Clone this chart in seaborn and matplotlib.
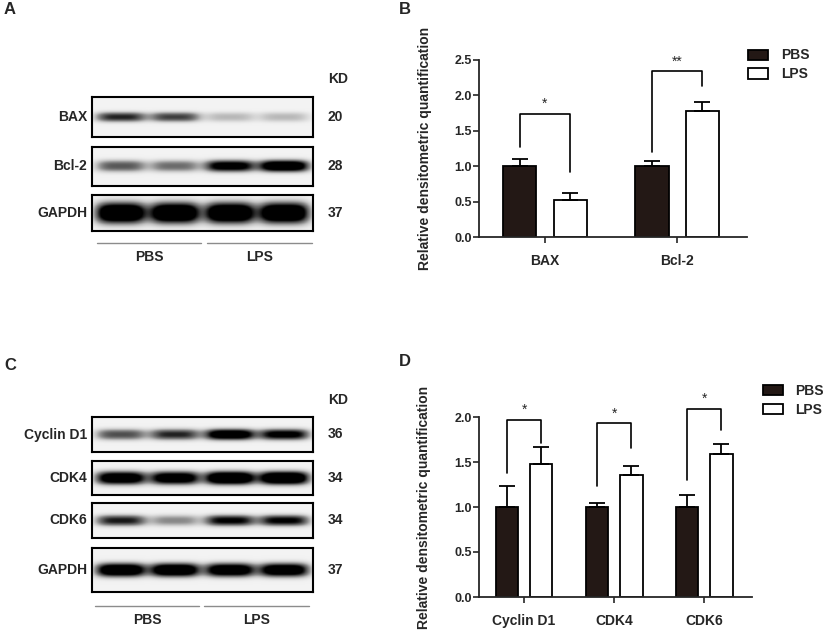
import matplotlib
matplotlib.use('Agg')
import matplotlib.pyplot as plt
from matplotlib.lines import Line2D
import seaborn as sns
import pandas as pd
import numpy as np

## valores

# painel B
b_proteins = ['BAX', 'Bcl-2']
b_pbs = [1.00, 1.00]
b_pbs_err = [0.10, 0.07]
b_lps = [0.52, 1.78]
b_lps_err = [0.10, 0.13]
b_stars = ['*', '**']
b_bracket_top = [1.74, 2.34]
b_leg_pbs = [1.27, 1.20]
b_leg_lps = [0.92, 2.13]

# painel D
d_proteins = ['Cyclin D1', 'CDK4', 'CDK6']
d_pbs = [1.00, 1.00, 1.00]
d_pbs_err = [0.23, 0.05, 0.13]
d_lps = [1.48, 1.36, 1.59]
d_lps_err = [0.19, 0.10, 0.11]
d_stars = ['*', '*', '*']
d_bracket_top = [1.97, 1.93, 2.09]
d_leg_pbs = [1.38, 1.23, 1.30]
d_leg_lps = [1.71, 1.66, 1.86]

# blots (intensidade das bandas, 4 pistas: PBS, PBS, LPS, LPS)
a_blots = ['BAX', 'Bcl-2', 'GAPDH']
a_kd = ['20', '28', '37']
a_bands = [[0.70, 0.65, 0.36, 0.36],
           [0.60, 0.55, 0.85, 0.95],
           [1.00, 1.00, 1.00, 1.00]]
c_blots = ['Cyclin D1', 'CDK4', 'CDK6', 'GAPDH']
c_kd = ['36', '34', '34', '37']
c_bands = [[0.62, 0.70, 0.92, 0.82],
           [0.92, 0.90, 1.00, 1.00],
           [0.72, 0.48, 0.78, 0.78],
           [0.95, 0.95, 0.92, 0.92]]
groups = ['PBS', 'LPS']

W, H = 827, 638
DARK = '#231815'

sns.set_style('ticks')
plt.rcParams['font.family'] = ['Liberation Sans', 'DejaVu Sans']
plt.rcParams['font.weight'] = 'bold'

fig = plt.figure(figsize=(W / 100, H / 100), dpi=100)


def px_rect(x0, y0, x1, y1):
    return [x0 / W, 1 - y1 / H, (x1 - x0) / W, (y1 - y0) / H]


def ftext(x, y, s, **kw):
    fig.text(x / W, 1 - y / H, s, fontweight='bold', **kw)


def blot_img(levels, thick):
    x = np.linspace(0, 1, 300)
    y = np.linspace(-1, 1, 60)
    img = np.full((60, 300), 0.10)
    for c, lv in zip([0.13, 0.375, 0.625, 0.87], levels):
        prof = np.exp(-np.abs((x - c) / 0.115) ** 4)
        band = np.exp(-np.abs(y / thick) ** 2.5)
        img += 1.35 * lv ** 1.5 * np.outer(band, prof)
    return np.clip(img, 0, 1)


def draw_blots(names, kd, bands, boxes, thick, kd_y, line_y, lines):
    for name, k, lv, (y0, y1), th in zip(names, kd, bands, boxes, thick):
        ax = fig.add_axes(px_rect(92, y0, 313, y1))
        ax.imshow(blot_img(lv, th), cmap='Greys', vmin=0, vmax=1.0,
                  aspect='auto', interpolation='bilinear')
        ax.set_xticks([])
        ax.set_yticks([])
        for sp in ax.spines.values():
            sp.set_linewidth(1.5)
            sp.set_color('black')
        ftext(87, (y0 + y1) / 2, name, fontsize=10, ha='right', va='center')
        ftext(328, (y0 + y1) / 2, k, fontsize=10, ha='left', va='center')
    ftext(328, kd_y, 'KD', fontsize=10, ha='left', va='center')
    for (x0, x1), g in zip(lines, groups):
        fig.add_artist(Line2D([x0 / W, x1 / W], [1 - line_y / H] * 2,
                              color='#8c8c8c', lw=1))
        ftext((x0 + x1) / 2, line_y + 14, g, fontsize=10, ha='center', va='center')


def draw_bars(rect, proteins, pbs, pbs_err, lps, lps_err, stars, tops,
              leg_p, leg_l, ymax, yticks, leg_anchor):
    ax = fig.add_axes(rect)
    df = pd.DataFrame({
        'protein': proteins * 2,
        'value': pbs + lps,
        'group': ['PBS'] * len(proteins) + ['LPS'] * len(proteins),
    })
    sns.barplot(data=df, x='protein', y='value', hue='group', ax=ax,
                palette={'PBS': DARK, 'LPS': 'white'}, edgecolor='black',
                linewidth=1.3, width=0.76, gap=0.34, errorbar=None,
                saturation=1)
    xp = [b.get_x() + b.get_width() / 2 for b in ax.containers[0]]
    xl = [b.get_x() + b.get_width() / 2 for b in ax.containers[1]]
    for xs, v, e in [(xp, pbs, pbs_err), (xl, lps, lps_err)]:
        ax.errorbar(xs, v, yerr=[np.zeros(len(e)), e], fmt='none',
                    ecolor='black', elinewidth=1.3, capsize=5.5, capthick=1.3,
                    zorder=1)
    for a, b, s, t, lp, ll in zip(xp, xl, stars, tops, leg_p, leg_l):
        ax.plot([a, a, b, b], [lp, t, t, ll], color='black', lw=1.2,
                clip_on=False)
        ax.text((a + b) / 2, t + 0.015 * ymax, s, ha='center', va='bottom',
                fontsize=10, fontweight='normal')
    ax.set_xlim(-0.5, len(proteins) - 0.47)
    ax.set_ylim(0, ymax)
    ax.set_yticks(yticks)
    ax.set_yticklabels([f'{t:.1f}' for t in yticks])
    ax.set_xlabel('')
    ax.set_ylabel('Relative densitometric quantification', fontsize=10,
                  fontweight='bold')
    ax.yaxis.set_label_coords(-0.175, 0.5)
    ax.tick_params(axis='y', labelsize=9, length=4, width=1.2, pad=1)
    ax.tick_params(axis='x', labelsize=10, length=4, width=1.2, pad=8)
    for sp in ['left', 'bottom']:
        ax.spines[sp].set_linewidth(1.3)
    sns.despine(ax=ax)
    sns.move_legend(ax, 'upper left', bbox_to_anchor=leg_anchor, frameon=False,
                    title=None, fontsize=10, borderpad=0, borderaxespad=0,
                    handlelength=1.45, handleheight=0.75, handletextpad=0.9,
                    labelspacing=0.35)
    return ax


# painel A
ftext(4, 10, 'A', fontsize=12, ha='left', va='center')
draw_blots(a_blots, a_kd, a_bands, [(97, 137), (147, 186), (195, 231)],
           [0.25, 0.3, 0.6], 79, 243, [(97, 201), (207, 312)])

# painel C
ftext(4, 365, 'C', fontsize=12, ha='left', va='center')
draw_blots(c_blots, c_kd, c_bands,
           [(417, 452), (461, 495), (503, 538), (548, 592)],
           [0.32, 0.4, 0.32, 0.32], 400, 606, [(95, 199), (204, 309)])

# painel B
ftext(399, 10, 'B', fontsize=12, ha='left', va='center')
draw_bars(px_rect(479, 60, 747, 237), b_proteins, b_pbs, b_pbs_err, b_lps,
          b_lps_err, b_stars, b_bracket_top, b_leg_pbs, b_leg_lps, 2.5,
          [0, 0.5, 1.0, 1.5, 2.0, 2.5], (1.005, 1.065))

# painel D
ftext(399, 362, 'D', fontsize=12, ha='left', va='center')
draw_bars(px_rect(479, 417, 752, 597), d_proteins, d_pbs, d_pbs_err, d_lps,
          d_lps_err, d_stars, d_bracket_top, d_leg_pbs, d_leg_lps, 2.0,
          [0, 0.5, 1.0, 1.5, 2.0], (1.04, 1.185))

fig.savefig('out.png', dpi=100, facecolor='white')
